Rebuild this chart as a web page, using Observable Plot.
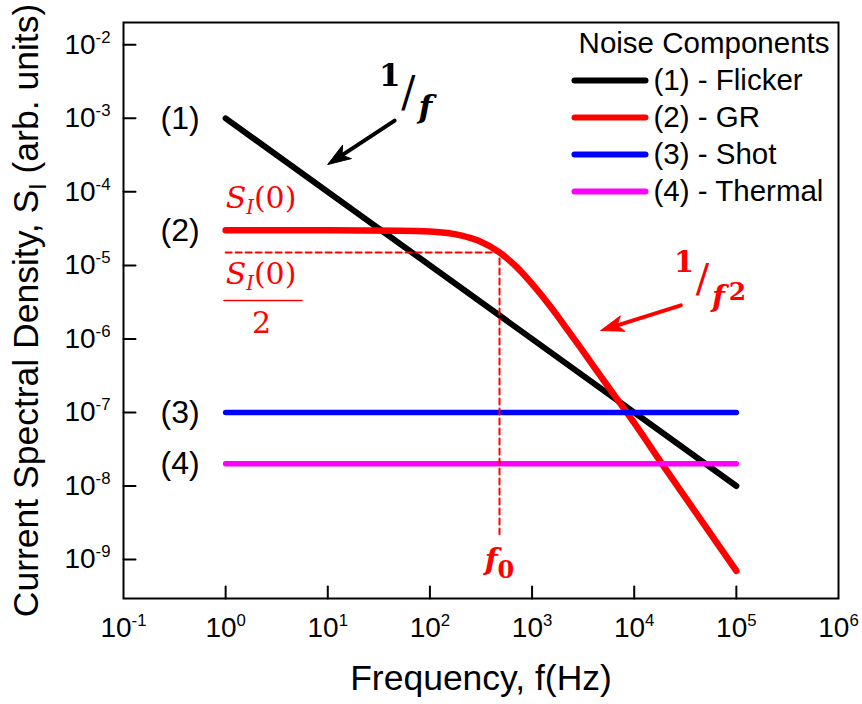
<!DOCTYPE html>
<html><head><meta charset="utf-8">
<script src="https://cdn.jsdelivr.net/npm/d3@7"></script>
<script src="https://cdn.jsdelivr.net/npm/@observablehq/plot@0.6"></script>
<style>body{margin:0;background:#fff}</style>
</head><body><div id="chart"></div>
<script>
// ---------- data ----------
const flickerF = [1, 1e5];
const flickerS = [1e-3, 1e-8];
const grF = [1, 10, 50, 100, 200, 300, 480, 700, 1000, 1500, 2000, 3000, 5000, 10000, 20000, 50000, 100000];
const grS = [3.0e-5, 3.0e-5, 2.97e-5, 2.88e-5, 2.56e-5, 2.16e-5, 1.5e-5, 9.6e-6, 5.6e-6, 2.8e-6, 1.63e-6, 7.5e-7, 2.75e-7, 7.2e-8, 1.75e-8, 2.8e-9, 7.0e-10];
const shotF = [1, 1e5];
const shotS = [1e-7, 1e-7];
const thermalF = [1, 1e5];
const thermalS = [2e-8, 2e-8];
const seriesNames = ["(1) - Flicker", "(2) - GR", "(3) - Shot", "(4) - Thermal"];
const seriesTags = ["(1)", "(2)", "(3)", "(4)"];
const seriesColors = ["#000000", "#ff0000", "#0000ff", "#ff00ff"];
const xTicks = [1e-1, 1e0, 1e1, 1e2, 1e3, 1e4, 1e5, 1e6];
const yTicks = [1e-2, 1e-3, 1e-4, 1e-5, 1e-6, 1e-7, 1e-8, 1e-9];
const xDomain = [1e-1, 1e6];
const yDomain = [2.95e-10, 2.01e-2];
const f0 = 480;
const S0half = 1.5e-5;
const f0Bottom = 2.2e-9;

const series = [
  {f: flickerF, s: flickerS},
  {f: grF, s: grS},
  {f: shotF, s: shotS},
  {f: thermalF, s: thermalS}
].map((d, i) => ({...d, name: seriesNames[i], tag: seriesTags[i], color: seriesColors[i]}));
const widths = [6, 6.5, 5.5, 5.5];

const tickShape = {draw(ctx, l) { ctx.moveTo(0, 0); ctx.lineTo(0, -l); }};
const shaftShape = {draw(ctx, l) { ctx.moveTo(0, 0); ctx.lineTo(0, -(l - 14)); }};
const headShape = {draw(ctx, l) {
  ctx.moveTo(0, -l); ctx.lineTo(-8, -l + 23); ctx.lineTo(0, -l + 17); ctx.lineTo(8, -l + 23); ctx.closePath();
}};
const fmtPow = d => "10|p:" + Math.round(Math.log10(d));
const serif = "'DejaVu Serif', serif";

const marks = [];
// series lines
series.forEach((sr, i) => {
  const rows = sr.f.map((f, j) => ({f, s: sr.s[j]}));
  marks.push(Plot.line(rows, {x: "f", y: "s", stroke: sr.color, strokeWidth: widths[i],
    strokeLinecap: "round", strokeLinejoin: "round", curve: i === 1 ? "monotone-x" : "linear"}));
});
// dashed f0 guide
marks.push(Plot.line([{f: grF[0], s: S0half}, {f: f0, s: S0half}, {f: f0, s: f0Bottom}],
  {x: "f", y: "s", stroke: "#ff0000", strokeWidth: 2, strokeDasharray: "6,4"}));
// frame, ticks, axes
marks.push(Plot.frame({stroke: "black", strokeWidth: 2}));
marks.push(Plot.vector(xTicks.slice(1, -1), {x: d => d, y: () => yDomain[0], length: 12, anchor: "start", shape: tickShape, stroke: "black", strokeWidth: 2}));
marks.push(Plot.vector(yTicks, {x: () => xDomain[0], y: d => d, rotate: 90, length: 12, anchor: "start", shape: tickShape, stroke: "black", strokeWidth: 2}));
marks.push(Plot.axisX(xTicks, {anchor: "bottom", tickSize: 0, tickPadding: 19, tickFormat: fmtPow, fontSize: 28, label: null}));
marks.push(Plot.axisY(yTicks, {anchor: "left", tickSize: 0, tickPadding: 13, tickFormat: fmtPow, fontSize: 28, label: null}));
// axis titles
marks.push(Plot.text(["Frequency, f(Hz)"], {frameAnchor: "bottom", textAnchor: "middle", dy: 80.6, fontSize: 35.5, lineAnchor: "middle"}));
marks.push(Plot.text(["Current Spectral Density, S|s:I|: (arb. units)"], {frameAnchor: "left", textAnchor: "middle", dx: -96.4, rotate: -90, fontSize: 35.5, lineAnchor: "middle"}));
// series tags
marks.push(Plot.text(series, {x: d => d.f[0], y: d => d.s[0], text: "tag", textAnchor: "end", dx: -26, fontSize: 32, lineAnchor: "middle"}));
// legend
marks.push(Plot.text(["Noise Components"], {frameAnchor: "top-right", dx: -9, dy: 21, textAnchor: "end", lineAnchor: "middle", fontSize: 29.5}));
series.forEach((sr, i) => {
  marks.push(Plot.vector([0], {frameAnchor: "top-right", dx: -193, dy: 58 + 37 * i, rotate: 90, anchor: "end", length: 71,
    shape: tickShape, stroke: sr.color, strokeWidth: 6, strokeLinecap: "round"}));
  marks.push(Plot.text([sr.name], {frameAnchor: "top-right", dx: -185, dy: 58 + 37 * i, textAnchor: "start", lineAnchor: "middle", fontSize: 29.5}));
});
// S_I(0) annotations
marks.push(Plot.text(["i:S|is:I|:(0)"], {x: () => grF[0], y: () => grS[0], textAnchor: "start", lineAnchor: "bottom", dy: -22, fontSize: 30, fontFamily: serif, fill: "#ff0000"}));
marks.push(Plot.text(["i:S|is:I|:(0)"], {x: () => grF[0], y: () => S0half, textAnchor: "start", lineAnchor: "bottom", dy: 32, fontSize: 30, fontFamily: serif, fill: "#ff0000"}));
marks.push(Plot.vector([0], {x: () => grF[0], y: () => S0half, dx: -1.7, dy: 48, rotate: 90, anchor: "start", length: 78, shape: tickShape, stroke: "#ff0000", strokeWidth: 1.5}));
marks.push(Plot.text(["2"], {x: () => grF[0], y: () => S0half, dx: 36, dy: 81, textAnchor: "middle", lineAnchor: "bottom", fontSize: 30, fontFamily: serif, fill: "#ff0000"}));
// f0 label
marks.push(Plot.text(["bi:f|bS:0"], {x: () => f0, y: () => f0Bottom, textAnchor: "middle", lineAnchor: "bottom", dy: 36, fontSize: 30, fontFamily: serif, fill: "#ff0000"}));
// 1/f annotation (black)
const blackAt = {x: () => 40, y: () => 2e-3};
marks.push(Plot.text(["1"], {...blackAt, dx: 0.6, dy: -20.6, fontSize: 31, fontWeight: "bold", fontFamily: serif, lineAnchor: "middle"}));
marks.push(Plot.text(["/"], {...blackAt, dx: 19.1, dy: -4, fontSize: 42, fontFamily: serif, lineAnchor: "middle"}));
marks.push(Plot.text(["f"], {...blackAt, dx: 36.2, dy: 11.4, fontSize: 32, fontWeight: "bold", fontStyle: "italic", fontFamily: serif, lineAnchor: "middle"}));
// 1/f^2 annotation (red)
const redAt = {x: () => 1e4, y: () => 1e-6};
marks.push(Plot.text(["1"], {...redAt, dx: 49.8, dy: -76.5, fontSize: 29, fontWeight: "bold", fontFamily: serif, lineAnchor: "middle", fill: "#ff0000"}));
marks.push(Plot.text(["/"], {...redAt, dx: 68.3, dy: -60, fontSize: 40, fontFamily: serif, lineAnchor: "middle", fill: "#ff0000"}));
marks.push(Plot.text(["f"], {...redAt, dx: 84.3, dy: -41.5, fontSize: 30, fontWeight: "bold", fontStyle: "italic", fontFamily: serif, lineAnchor: "middle", fill: "#ff0000"}));
marks.push(Plot.text(["2"], {...redAt, dx: 103.3, dy: -46.5, fontSize: 25, fontWeight: "bold", fontFamily: serif, lineAnchor: "middle", fill: "#ff0000"}));
// arrows
const arrows = [
  {x: 10, y: 2.35e-4, rotate: 236.7, length: 80, color: "#000000"},
  {x: 4700, y: 1.3e-6, rotate: 252.6, length: 84, color: "#ff0000"}
];
arrows.forEach(a => {
  marks.push(Plot.vector([a], {x: "x", y: "y", rotate: a.rotate, length: a.length, anchor: "end", shape: shaftShape, stroke: a.color, strokeWidth: 4}));
  marks.push(Plot.vector([a], {x: "x", y: "y", rotate: a.rotate, length: a.length, anchor: "end", shape: headShape, stroke: a.color, fill: a.color, strokeWidth: 1}));
});

const svg = Plot.plot({
  width: 862, height: 704,
  marginLeft: 123, marginRight: 24, marginTop: 22, marginBottom: 106,
  x: {type: "log", domain: xDomain},
  y: {type: "log", domain: yDomain},
  style: {fontFamily: "'Liberation Sans', Arial, sans-serif", background: "white", color: "black", overflow: "visible"},
  marks
});

// rich text: segments "code:text" separated by "|" (i italic, b bold, s sub, S big sub, p sup)
function richify(root) {
  root.querySelectorAll("text").forEach(t => {
    const str = t.textContent;
    if (!str.includes("|")) return;
    let base = 28, el = t;
    while (el && el.getAttribute) { const fs = el.getAttribute("font-size"); if (fs) { base = parseFloat(fs); break; } el = el.parentNode; }
    t.textContent = "";
    let cur = 0;
    str.split("|").forEach(seg => {
      const m = seg.match(/^([ibsSp]*):(.*)$/);
      const code = m ? m[1] : "", text = m ? m[2] : seg;
      const ts = document.createElementNS("http://www.w3.org/2000/svg", "tspan");
      let off = 0;
      if (code.includes("i")) ts.setAttribute("font-style", "italic");
      if (code.includes("b")) ts.setAttribute("font-weight", "bold");
      if (code.includes("p")) { ts.setAttribute("font-size", base * 0.6); off = -base * 0.4; }
      if (code.includes("s")) { ts.setAttribute("font-size", base * 0.65); off = base * 0.2; }
      if (code.includes("S")) { ts.setAttribute("font-size", base * 0.8); off = base * 0.24; }
      if (off - cur !== 0) ts.setAttribute("dy", off - cur);
      cur = off;
      ts.textContent = text;
      t.appendChild(ts);
    });
  });
}
richify(svg);
document.getElementById("chart").appendChild(svg);
</script>
</body></html>
